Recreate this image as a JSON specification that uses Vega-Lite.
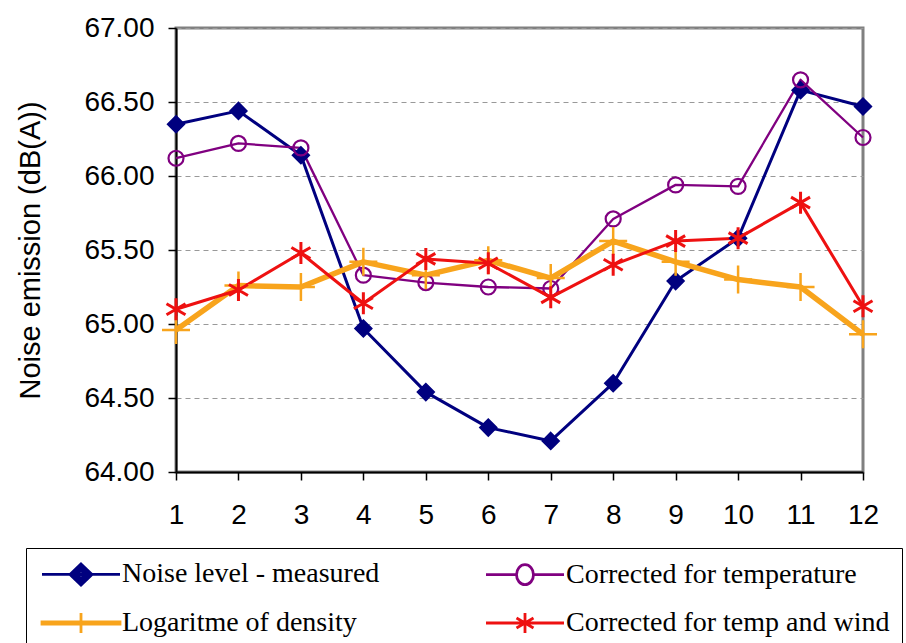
{
  "$schema": "https://vega.github.io/schema/vega-lite/v6.json",
  "autosize": {"type": "none"},
  "width": 687,
  "height": 444,
  "padding": {"left": 176, "top": 28, "right": 43, "bottom": 171},
  "background": "white",
  "config": {
    "view": {"stroke": "#808080", "strokeWidth": 3},
    "axis": {"labelFont": "Liberation Sans", "titleFont": "Liberation Sans", "labelColor": "black", "titleColor": "black", "domainColor": "black", "tickColor": "black"}
  },
  "data": {"values": [
    {"x": 1, "series": "Noise level - measured", "value": 66.35},
    {"x": 2, "series": "Noise level - measured", "value": 66.44},
    {"x": 3, "series": "Noise level - measured", "value": 66.14},
    {"x": 4, "series": "Noise level - measured", "value": 64.97},
    {"x": 5, "series": "Noise level - measured", "value": 64.54},
    {"x": 6, "series": "Noise level - measured", "value": 64.30},
    {"x": 7, "series": "Noise level - measured", "value": 64.21},
    {"x": 8, "series": "Noise level - measured", "value": 64.60},
    {"x": 9, "series": "Noise level - measured", "value": 65.29},
    {"x": 10, "series": "Noise level - measured", "value": 65.58},
    {"x": 11, "series": "Noise level - measured", "value": 66.58},
    {"x": 12, "series": "Noise level - measured", "value": 66.47},
    {"x": 1, "series": "Corrected for temperature", "value": 66.12},
    {"x": 2, "series": "Corrected for temperature", "value": 66.22},
    {"x": 3, "series": "Corrected for temperature", "value": 66.19},
    {"x": 4, "series": "Corrected for temperature", "value": 65.33},
    {"x": 5, "series": "Corrected for temperature", "value": 65.28},
    {"x": 6, "series": "Corrected for temperature", "value": 65.25},
    {"x": 7, "series": "Corrected for temperature", "value": 65.24},
    {"x": 8, "series": "Corrected for temperature", "value": 65.71},
    {"x": 9, "series": "Corrected for temperature", "value": 65.94},
    {"x": 10, "series": "Corrected for temperature", "value": 65.93},
    {"x": 11, "series": "Corrected for temperature", "value": 66.65},
    {"x": 12, "series": "Corrected for temperature", "value": 66.26},
    {"x": 1, "series": "Logaritme of density", "value": 64.96},
    {"x": 2, "series": "Logaritme of density", "value": 65.26},
    {"x": 3, "series": "Logaritme of density", "value": 65.25},
    {"x": 4, "series": "Logaritme of density", "value": 65.42},
    {"x": 5, "series": "Logaritme of density", "value": 65.33},
    {"x": 6, "series": "Logaritme of density", "value": 65.43},
    {"x": 7, "series": "Logaritme of density", "value": 65.31},
    {"x": 8, "series": "Logaritme of density", "value": 65.56},
    {"x": 9, "series": "Logaritme of density", "value": 65.42},
    {"x": 10, "series": "Logaritme of density", "value": 65.30},
    {"x": 11, "series": "Logaritme of density", "value": 65.25},
    {"x": 12, "series": "Logaritme of density", "value": 64.93},
    {"x": 1, "series": "Corrected for temp and wind", "value": 65.10},
    {"x": 2, "series": "Corrected for temp and wind", "value": 65.23},
    {"x": 3, "series": "Corrected for temp and wind", "value": 65.48},
    {"x": 4, "series": "Corrected for temp and wind", "value": 65.14},
    {"x": 5, "series": "Corrected for temp and wind", "value": 65.44},
    {"x": 6, "series": "Corrected for temp and wind", "value": 65.41},
    {"x": 7, "series": "Corrected for temp and wind", "value": 65.18},
    {"x": 8, "series": "Corrected for temp and wind", "value": 65.40},
    {"x": 9, "series": "Corrected for temp and wind", "value": 65.56},
    {"x": 10, "series": "Corrected for temp and wind", "value": 65.58},
    {"x": 11, "series": "Corrected for temp and wind", "value": 65.82},
    {"x": 12, "series": "Corrected for temp and wind", "value": 65.12}
  ]},
  "encoding": {
    "x": {"field": "x", "type": "quantitative", "scale": {"domain": [1, 12], "nice": false, "zero": false},
      "axis": {"title": null, "values": [1,2,3,4,5,6,7,8,9,10,11,12], "format": "d", "grid": false, "labelFontSize": 28, "tickSize": 8, "tickWidth": 1.5, "domainWidth": 2, "labelPadding": 21, "labelFlush": false}},
    "y": {"field": "value", "type": "quantitative", "scale": {"domain": [64, 67], "nice": false, "zero": false},
      "axis": {"title": "Noise emission (dB(A))", "titleFontSize": 29, "titleFontWeight": "normal", "titlePadding": 38, "values": [64, 64.5, 65, 65.5, 66, 66.5, 67], "format": ".2f", "labelFontSize": 28, "tickSize": 8, "tickWidth": 1.5, "domainWidth": 2, "labelPadding": 14, "labelFlush": false, "grid": true, "gridDash": [5, 4], "gridColor": "#999999", "gridWidth": 1}}
  },
  "layer": [
    {
      "mark": {"type": "line", "strokeJoin": "round"},
      "encoding": {
        "stroke": {"field": "series", "type": "nominal",
          "scale": {"domain": ["Noise level - measured", "Corrected for temperature", "Logaritme of density", "Corrected for temp and wind"], "range": ["#00007f", "#800080", "#f8a41c", "#ee1111"]},
          "legend": {"title": null, "orient": "none", "direction": "horizontal", "legendX": -150, "legendY": 520, "columns": 2, "columnPadding": 100, "rowPadding": 16, "padding": 12,
            "strokeColor": "black", "fillColor": "white", "labelFont": "Liberation Serif", "labelFontSize": 28, "labelColor": "black", "labelOffset": 56, "labelLimit": 400, "symbolSize": 400, "symbolStrokeWidth": 2.8, "symbolOpacity": 1}},
        "strokeWidth": {"condition": [{"test": "datum.series === 'Logaritme of density'", "value": 5.5}, {"test": "datum.series === 'Corrected for temperature'", "value": 2.3}], "value": 3}
      }
    },
    {
      "mark": {"type": "point", "size": 400, "opacity": 0},
      "encoding": {
        "stroke": {"field": "series", "type": "nominal"},
        "shape": {"field": "series", "type": "nominal", "legend": null,
          "scale": {"domain": ["Noise level - measured", "Corrected for temperature", "Logaritme of density", "Corrected for temp and wind"],
            "range": ["M-1,0H6.8M2.9,-1.05L4,0L2.9,1.05L1.8,0ZM2.9,-0.75L3.7,0L2.9,0.75L2.1,0ZM2.9,-0.45L3.35,0L2.9,0.45L2.45,0ZM2.9,-0.2V0.2", "M-1,0H2.05M3.75,0H6.8M3.75,0A0.85,1 0 1,1 2.05,0A0.85,1 0 1,1 3.75,0Z", "M-1,-0.12H6.8V0.12H-1ZM2.9,-1V1", "M-1,0H6.8M2.9,-1V1M2.05,-0.5L3.75,0.5M2.05,0.5L3.75,-0.5"]}},
        "fill": {"field": "series", "type": "nominal", "legend": null,
          "scale": {"domain": ["Noise level - measured", "Corrected for temperature", "Logaritme of density", "Corrected for temp and wind"], "range": ["#00007f", "transparent", "#f8a41c", "transparent"]}}
      }
    },
    {
      "transform": [{"filter": "datum.series === 'Noise level - measured'"}],
      "mark": {"type": "point", "size": 400, "shape": "M0,-0.85L0.85,0L0,0.85L-0.85,0Z", "fill": "#00007f", "stroke": "#00007f", "strokeWidth": 1.5, "opacity": 1, "filled": true}
    },
    {
      "transform": [{"filter": "datum.series === 'Corrected for temperature'"}],
      "mark": {"type": "point", "size": 400, "shape": "M0.75,0A0.75,0.75 0 1,1 -0.75,0A0.75,0.75 0 1,1 0.75,0Z", "fill": "transparent", "stroke": "#800080", "strokeWidth": 2.2, "opacity": 1}
    },
    {
      "transform": [{"filter": "datum.series === 'Logaritme of density'"}],
      "mark": {"type": "point", "size": 400, "shape": "M-1.4,0H1.4M0,-1.4V1.4", "fill": "transparent", "stroke": "#f8a41c", "strokeWidth": 2.5, "opacity": 1}
    },
    {
      "transform": [{"filter": "datum.series === 'Corrected for temp and wind'"}],
      "mark": {"type": "point", "size": 400, "shape": "M0,-1.1V1.1M-0.95,-0.55L0.95,0.55M-0.95,0.55L0.95,-0.55", "fill": "transparent", "stroke": "#ee1111", "strokeWidth": 3, "opacity": 1}
    }
  ]
}
